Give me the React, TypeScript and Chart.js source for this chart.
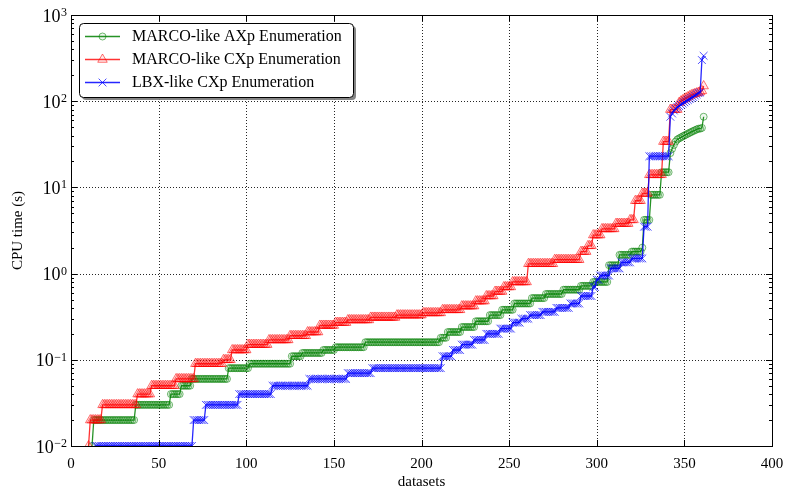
import React, { useEffect, useRef } from 'react';
import { Chart, registerables } from 'chart.js';

Chart.register(...registerables);

// ---------- data (sorted CPU times, run-length encoded: [seconds, number of datasets]) ----------
const seriesLabels = ['MARCO-like AXp Enumeration', 'MARCO-like CXp Enumeration', 'LBX-like CXp Enumeration'];

const greenStart = 12;
const greenRuns: [number, number][] = [
  [0.01, 1], [0.02, 24], [0.03, 20], [0.04, 6], [0.05, 6], [0.06, 21], [0.08, 12], [0.09, 24],
  [0.11, 6], [0.12, 12], [0.13, 7], [0.14, 17], [0.16, 43], [0.18, 4], [0.21, 8], [0.24, 8],
  [0.28, 8], [0.33, 7], [0.38, 7], [0.45, 10], [0.52, 8], [0.58, 10], [0.65, 10], [0.72, 7],
  [0.8, 9], [1.25, 6], [1.65, 7], [1.8, 6], [2.0, 1], [4.2, 4], [8.2, 6], [15, 5],
  [25, 1], [28, 1], [31, 1], [34, 1], [36, 1], [37, 1], [38, 1], [39, 1], [40, 1], [41, 1],
  [42, 1], [43, 1], [44, 1], [45, 1], [46, 1], [47, 1], [48, 2], [49, 1], [66, 1],
];

const redStart = 10;
const redRuns: [number, number][] = [
  [0.01, 1], [0.02, 7], [0.03, 20], [0.04, 8], [0.05, 14], [0.06, 11], [0.09, 16], [0.1, 5],
  [0.13, 9], [0.15, 12], [0.17, 12], [0.19, 10], [0.21, 7], [0.25, 9], [0.27, 7], [0.29, 13],
  [0.31, 15], [0.33, 15], [0.35, 11], [0.38, 11], [0.42, 8], [0.48, 6], [0.55, 5], [0.62, 5],
  [0.7, 5], [0.8, 9], [1.3, 15], [1.45, 15], [1.8, 4], [2.1, 3], [2.8, 5], [3.3, 8], [3.8, 8],
  [4.2, 3], [7, 4], [8.5, 4], [14, 8], [34, 4], [80, 5],
  [96, 1], [100, 1], [103, 1], [106, 1], [109, 1], [112, 1], [115, 1], [118, 1], [120, 1],
  [122, 1], [124, 1], [126, 1], [128, 1], [132, 1], [150, 1],
];

const blueStart = 14;
const blueRuns: [number, number][] = [
  [0.01, 56], [0.02, 7], [0.03, 19], [0.04, 19], [0.05, 21], [0.06, 22], [0.07, 14], [0.08, 40],
  [0.11, 6], [0.13, 5], [0.15, 7], [0.17, 7], [0.2, 8], [0.23, 7], [0.27, 5], [0.3, 5],
  [0.33, 7], [0.36, 8], [0.4, 8], [0.45, 6], [0.55, 7], [0.7, 2], [0.85, 2], [0.95, 6],
  [1.15, 6], [1.35, 6], [1.5, 7], [3.5, 3], [23, 12],
  [66, 1], [72, 1], [78, 1], [82, 1], [86, 1], [88, 1], [91, 1], [94, 1], [97, 1], [100, 1],
  [103, 1], [106, 1], [109, 1], [112, 1], [116, 1], [120, 1], [124, 1], [126, 1], [300, 1], [336, 1],
];

const xTickValues = [0, 50, 100, 150, 200, 250, 300, 350, 400];
const yTickExponents = [-2, -1, 0, 1, 2, 3];
const xTitle = 'datasets';
const yTitle = 'CPU time (s)';

// ---------- helpers ----------
function expand(start: number, runs: [number, number][]) {
  const pts: { x: number; y: number }[] = [];
  let x = start;
  for (const [v, n] of runs) for (let i = 0; i < n; i++) pts.push({ x: x++, y: v });
  return pts;
}

const FONT = '"Liberation Serif", "Times New Roman", serif';
const GREEN = 'rgba(0,128,0,0.85)';
const GREEN_M = 'rgba(0,128,0,0.55)';
const GREEN_F = 'rgba(0,128,0,0.06)';
const RED = 'rgba(255,0,0,0.8)';
const RED_M = 'rgba(255,0,0,0.55)';
const RED_F = 'rgba(255,0,0,0.08)';
const BLUE = 'rgba(0,0,255,0.85)';
const BLUE_M = 'rgba(0,0,255,0.7)';

const CIRCLE_R = 3.5;
const TRI_R = 5.5;
const CROSS_R = 5.5;

function marker(ctx: CanvasRenderingContext2D, style: string, x: number, y: number, color: string, fill: string) {
  ctx.save();
  ctx.strokeStyle = color;
  ctx.fillStyle = fill;
  ctx.lineWidth = 1;
  ctx.beginPath();
  if (style === 'circle') {
    ctx.arc(x, y, CIRCLE_R, 0, Math.PI * 2);
    ctx.fill();
  } else if (style === 'triangle') {
    for (let k = 0; k < 3; k++) {
      const a = (k * 2 * Math.PI) / 3;
      const px = x + Math.sin(a) * TRI_R;
      const py = y - Math.cos(a) * TRI_R;
      if (k === 0) ctx.moveTo(px, py);
      else ctx.lineTo(px, py);
    }
    ctx.closePath();
    ctx.fill();
  } else {
    const o = CROSS_R * Math.SQRT1_2;
    ctx.moveTo(x - o, y - o);
    ctx.lineTo(x + o, y + o);
    ctx.moveTo(x + o, y - o);
    ctx.lineTo(x - o, y + o);
  }
  ctx.stroke();
  ctx.restore();
}

const decor = {
  id: 'decor',
  beforeDatasetsDraw(chart: any) {
    const { ctx, chartArea: a, scales } = chart;
    const xs = scales.x, ys = scales.y;
    ctx.save();
    ctx.strokeStyle = 'rgba(0,0,0,0.85)';
    ctx.lineWidth = 1;
    ctx.setLineDash([1, 2]);
    for (const v of xTickValues) {
      const px = Math.round(xs.getPixelForValue(v)) + 0.5;
      if (px < a.left + 2 || px > a.right - 2) continue;
      ctx.beginPath();
      ctx.moveTo(px, a.top);
      ctx.lineTo(px, a.bottom);
      ctx.stroke();
    }
    for (const e of yTickExponents) {
      const py = Math.round(ys.getPixelForValue(Math.pow(10, e))) + 0.5;
      if (py < a.top + 2 || py > a.bottom - 2) continue;
      ctx.beginPath();
      ctx.moveTo(a.left, py);
      ctx.lineTo(a.right, py);
      ctx.stroke();
    }
    ctx.restore();
  },
  afterDatasetsDraw(chart: any) {
    const { ctx, chartArea: a, scales } = chart;
    const xs = scales.x, ys = scales.y;
    ctx.save();
    ctx.setLineDash([]);
    ctx.strokeStyle = '#000';
    ctx.lineWidth = 1;
    // frame
    ctx.strokeRect(Math.round(a.left) + 0.5, Math.round(a.top) + 0.5, Math.round(a.right - a.left), Math.round(a.bottom - a.top));
    // x ticks
    ctx.beginPath();
    for (const v of xTickValues) {
      const px = Math.round(xs.getPixelForValue(v)) + 0.5;
      ctx.moveTo(px, a.bottom);
      ctx.lineTo(px, a.bottom - 6);
      ctx.moveTo(px, a.top);
      ctx.lineTo(px, a.top + 6);
    }
    // y ticks (major + minor)
    for (let e = yTickExponents[0]; e < yTickExponents[yTickExponents.length - 1] + 1; e++) {
      for (let m = 1; m <= 9; m++) {
        const v = m * Math.pow(10, e);
        if (v > 1000.0001) continue;
        const py = Math.round(ys.getPixelForValue(v)) + 0.5;
        const len = m === 1 ? 6 : 3;
        ctx.moveTo(a.left, py);
        ctx.lineTo(a.left + len, py);
        ctx.moveTo(a.right, py);
        ctx.lineTo(a.right - len, py);
      }
    }
    ctx.stroke();

    // x tick labels
    ctx.fillStyle = '#000';
    ctx.font = `15px ${FONT}`;
    ctx.textAlign = 'center';
    ctx.textBaseline = 'alphabetic';
    for (const v of xTickValues) {
      ctx.fillText(String(v), xs.getPixelForValue(v), a.bottom + 22);
    }
    // y tick labels 10^e
    for (const e of yTickExponents) {
      const py = ys.getPixelForValue(Math.pow(10, e));
      const expStr = e < 0 ? '\u2212' + String(-e) : String(e);
      ctx.font = `12px ${FONT}`;
      const ew = ctx.measureText(expStr).width;
      const right = a.left - 4;
      ctx.textAlign = 'left';
      ctx.fillText(expStr, right - ew, py + 1);
      ctx.font = `18px ${FONT}`;
      ctx.textAlign = 'right';
      ctx.fillText('10', right - ew - 0.5, py + 6.5);
    }
    // axis titles
    ctx.font = `15px ${FONT}`;
    ctx.textAlign = 'center';
    ctx.fillText(xTitle, (a.left + a.right) / 2, a.bottom + 40);
    ctx.save();
    ctx.translate(22, (a.top + a.bottom) / 2);
    ctx.rotate(-Math.PI / 2);
    ctx.fillText(yTitle, 0, 0);
    ctx.restore();

    // legend
    const lx = 79, ly = 23, lw = 274, lh = 74, rr = 4;
    const rounded = (x: number, y: number, w: number, h: number) => {
      ctx.beginPath();
      ctx.moveTo(x + rr, y);
      ctx.lineTo(x + w - rr, y);
      ctx.quadraticCurveTo(x + w, y, x + w, y + rr);
      ctx.lineTo(x + w, y + h - rr);
      ctx.quadraticCurveTo(x + w, y + h, x + w - rr, y + h);
      ctx.lineTo(x + rr, y + h);
      ctx.quadraticCurveTo(x, y + h, x, y + h - rr);
      ctx.lineTo(x, y + rr);
      ctx.quadraticCurveTo(x, y, x + rr, y);
      ctx.closePath();
    };
    ctx.fillStyle = 'rgba(120,120,120,0.9)';
    rounded(lx + 3, ly + 3, lw, lh);
    ctx.fill();
    ctx.fillStyle = '#fff';
    rounded(lx + 0.5, ly + 0.5, lw, lh);
    ctx.fill();
    ctx.strokeStyle = '#000';
    ctx.stroke();
    const entries = [
      { label: seriesLabels[0], line: GREEN, m: GREEN_M, f: GREEN_F, style: 'circle' },
      { label: seriesLabels[1], line: RED, m: RED_M, f: RED_F, style: 'triangle' },
      { label: seriesLabels[2], line: BLUE, m: BLUE_M, f: 'rgba(0,0,0,0)', style: 'cross' },
    ];
    entries.forEach((en, i) => {
      const cy = ly + 13 + i * 23;
      ctx.strokeStyle = en.line;
      ctx.lineWidth = 1.3;
      ctx.beginPath();
      ctx.moveTo(85, cy + 0.5);
      ctx.lineTo(120, cy + 0.5);
      ctx.stroke();
      marker(ctx, en.style, 102.5, cy + 0.5, en.m, en.f);
      ctx.fillStyle = '#000';
      ctx.font = `16px ${FONT}`;
      ctx.textAlign = 'left';
      ctx.textBaseline = 'middle';
      ctx.fillText(en.label, 132, cy + 1);
    });
    ctx.restore();
  },
};

export default function App() {
  const ref = useRef<HTMLCanvasElement | null>(null);
  useEffect(() => {
    document.body.style.margin = '0';
    const canvas = ref.current;
    if (!canvas) return;
    const chart = new Chart(canvas, {
      type: 'line',
      data: {
        datasets: [
          {
            label: seriesLabels[0],
            data: expand(greenStart, greenRuns),
            borderColor: GREEN,
            borderWidth: 1.3,
            pointStyle: 'circle',
            pointRadius: CIRCLE_R,
            pointBorderColor: GREEN_M,
            pointBackgroundColor: GREEN_F,
            pointBorderWidth: 1,
            order: 3,
          },
          {
            label: seriesLabels[1],
            data: expand(redStart, redRuns),
            borderColor: RED,
            borderWidth: 1.3,
            pointStyle: 'triangle',
            pointRadius: TRI_R,
            pointBorderColor: RED_M,
            pointBackgroundColor: RED_F,
            pointBorderWidth: 1,
            order: 2,
          },
          {
            label: seriesLabels[2],
            data: expand(blueStart, blueRuns),
            borderColor: BLUE,
            borderWidth: 1.3,
            pointStyle: 'crossRot',
            pointRadius: CROSS_R,
            pointBorderColor: BLUE_M,
            pointBackgroundColor: 'rgba(0,0,0,0)',
            pointBorderWidth: 1,
            order: 1,
          },
        ],
      },
      options: {
        responsive: false,
        animation: false,
        layout: { padding: { left: 0, right: 18, top: 15, bottom: 0 } },
        plugins: { legend: { display: false }, tooltip: { enabled: false } },
        elements: { line: { tension: 0 } },
        scales: {
          x: {
            type: 'linear',
            min: 0,
            max: 400,
            grid: { display: false },
            border: { display: false },
            ticks: { display: false, stepSize: 50 },
            afterFit: (s: any) => { s.height = 43; },
          },
          y: {
            type: 'logarithmic',
            min: 0.01,
            max: 1000,
            grid: { display: false },
            border: { display: false },
            ticks: { display: false },
            afterFit: (s: any) => { s.width = 71; },
          },
        },
      },
      plugins: [decor],
    } as any);
    return () => chart.destroy();
  }, []);
  return (
    <div style={{ width: 790, height: 489 }}>
      <canvas ref={ref} width={790} height={489} style={{ display: 'block' }} />
    </div>
  );
}
